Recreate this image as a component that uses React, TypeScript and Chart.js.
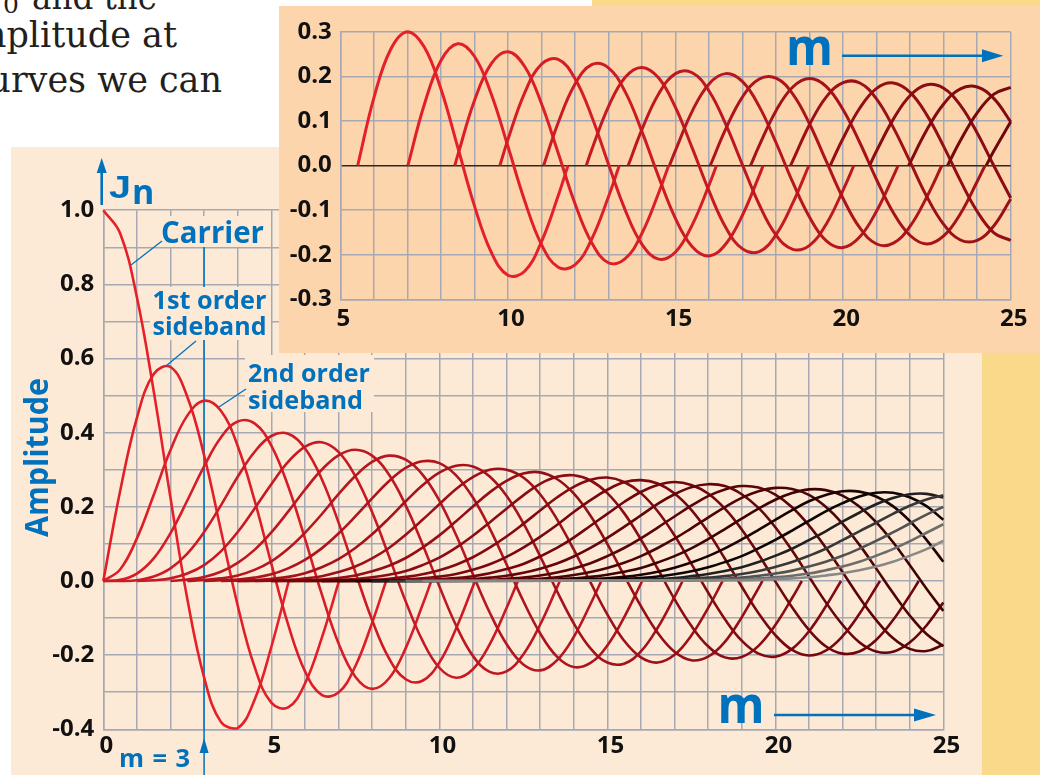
import React, { useEffect, useRef } from "react";
import { Chart, registerables } from "chart.js";

Chart.register(...registerables);

// ---------- data ----------
const STEP = 0.5;

// Main chart: J_n(m), n = 0..26, drawn from m = 0 (or a lead-in point) up to the 2nd zero / m = 25
const mainLead: (number | null)[] = [null, null, null, null, null, 1.0, 2.0, 2.5, 3.0, 3.5, 4.0, 4.0, 4.5, 5.0, 5.0, 5.5, 6.0, 6.5, 6.5, 7.0, 7.5, 8.0, 8.0, 8.5, 9.0, 9.0, 9.5];
const mainX0: number[] = [0, 0, 0, 0, 0, 1.5, 2.5, 3.0, 3.5, 4.5, 5.5, 6.0, 7.0, 7.5, 8.5, 9.5, 10.0, 11.0, 12.0, 13.0, 13.5, 14.5, 15.5, 16.5, 17.5, 18.0, 19.0];
const mainVals: number[][] = [
  [1.0, 0.938, 0.765, 0.512, 0.224, -0.048, -0.26, -0.38, -0.397, -0.321, -0.178],
  [0, 0.242, 0.44, 0.558, 0.577, 0.497, 0.339, 0.137, -0.066, -0.231, -0.328, -0.341, -0.277, -0.154],
  [0, 0.031, 0.115, 0.232, 0.353, 0.446, 0.486, 0.459, 0.364, 0.218, 0.047, -0.117, -0.243, -0.307, -0.301, -0.23, -0.113],
  [0, 0.003, 0.02, 0.061, 0.129, 0.217, 0.309, 0.387, 0.43, 0.425, 0.365, 0.256, 0.115, -0.035, -0.168, -0.258, -0.291, -0.263, -0.181, -0.065],
  [0, 0, 0.002, 0.012, 0.034, 0.074, 0.132, 0.204, 0.281, 0.348, 0.391, 0.397, 0.358, 0.275, 0.158, 0.024, -0.105, -0.208, -0.265, -0.269, -0.22, -0.128, -0.015],
  [0.002, 0.007, 0.02, 0.043, 0.08, 0.132, 0.195, 0.261, 0.321, 0.362, 0.374, 0.348, 0.283, 0.186, 0.067, -0.055, -0.161, -0.234, -0.261, -0.238, -0.171, -0.073],
  [0.004, 0.011, 0.025, 0.049, 0.084, 0.131, 0.187, 0.246, 0.3, 0.339, 0.354, 0.338, 0.287, 0.204, 0.099, -0.014, -0.12, -0.202, -0.245, -0.244, -0.198, -0.118, -0.018],
  [0.003, 0.007, 0.015, 0.03, 0.053, 0.087, 0.13, 0.18, 0.234, 0.283, 0.321, 0.338, 0.327, 0.287, 0.217, 0.124, 0.018, -0.085, -0.17, -0.225, -0.241, -0.214, -0.151, -0.062],
  [0.002, 0.004, 0.009, 0.018, 0.034, 0.057, 0.088, 0.128, 0.174, 0.223, 0.269, 0.305, 0.323, 0.318, 0.285, 0.225, 0.142, 0.045, -0.054, -0.141, -0.204, -0.232, -0.221, -0.174, -0.098],
  [0.002, 0.006, 0.011, 0.021, 0.037, 0.059, 0.089, 0.126, 0.169, 0.215, 0.258, 0.292, 0.311, 0.309, 0.282, 0.23, 0.156, 0.067, -0.027, -0.114, -0.182, -0.22, -0.223, -0.19, -0.126, -0.043],
  [0.003, 0.007, 0.013, 0.024, 0.039, 0.061, 0.089, 0.125, 0.165, 0.207, 0.248, 0.28, 0.3, 0.3, 0.279, 0.234, 0.167, 0.085, -0.004, -0.09, -0.161, -0.206, -0.22, -0.199, -0.147, -0.073],
  [0.002, 0.004, 0.008, 0.015, 0.026, 0.041, 0.062, 0.09, 0.123, 0.161, 0.201, 0.239, 0.27, 0.29, 0.293, 0.275, 0.236, 0.176, 0.1, 0.015, -0.068, -0.14, -0.191, -0.214, -0.204, -0.164, -0.098, -0.019],
  [0.003, 0.005, 0.01, 0.017, 0.027, 0.043, 0.063, 0.09, 0.122, 0.158, 0.195, 0.231, 0.262, 0.281, 0.285, 0.271, 0.237, 0.183, 0.112, 0.033, -0.049, -0.121, -0.176, -0.206, -0.205, -0.175, -0.119, -0.046],
  [0.002, 0.003, 0.006, 0.011, 0.018, 0.029, 0.044, 0.064, 0.09, 0.12, 0.154, 0.19, 0.225, 0.254, 0.273, 0.279, 0.267, 0.237, 0.188, 0.123, 0.047, -0.031, -0.103, -0.161, -0.196, -0.204, -0.183, -0.136, -0.069],
  [0.002, 0.004, 0.007, 0.012, 0.019, 0.03, 0.045, 0.065, 0.09, 0.119, 0.151, 0.186, 0.218, 0.246, 0.266, 0.272, 0.263, 0.236, 0.192, 0.132, 0.06, -0.015, -0.087, -0.146, -0.186, -0.201, -0.188, -0.149, -0.089, -0.017],
  [0.002, 0.005, 0.008, 0.013, 0.021, 0.032, 0.046, 0.066, 0.089, 0.117, 0.149, 0.181, 0.213, 0.24, 0.259, 0.267, 0.259, 0.236, 0.195, 0.139, 0.072, -0.001, -0.071, -0.132, -0.176, -0.196, -0.19, -0.159, -0.106, -0.039],
  [0.002, 0.003, 0.005, 0.009, 0.014, 0.022, 0.033, 0.047, 0.066, 0.089, 0.116, 0.146, 0.177, 0.208, 0.234, 0.253, 0.261, 0.256, 0.234, 0.197, 0.145, 0.082, 0.012, -0.057, -0.118, -0.165, -0.19, -0.191, -0.166, -0.12],
  [0.002, 0.003, 0.006, 0.009, 0.015, 0.023, 0.034, 0.048, 0.067, 0.089, 0.115, 0.144, 0.174, 0.203, 0.229, 0.247, 0.256, 0.252, 0.233, 0.199, 0.15, 0.09, 0.024, -0.044, -0.105, -0.154, -0.183, -0.189],
  [0.002, 0.004, 0.006, 0.01, 0.016, 0.024, 0.035, 0.049, 0.067, 0.089, 0.114, 0.142, 0.171, 0.199, 0.224, 0.242, 0.251, 0.248, 0.232, 0.2, 0.155, 0.098, 0.034, -0.032, -0.093, -0.143],
  [0.002, 0.004, 0.007, 0.011, 0.017, 0.025, 0.035, 0.05, 0.067, 0.088, 0.113, 0.14, 0.168, 0.195, 0.219, 0.237, 0.247, 0.245, 0.23, 0.201, 0.159, 0.105, 0.043, -0.021],
  [0.002, 0.003, 0.005, 0.007, 0.011, 0.017, 0.025, 0.036, 0.05, 0.067, 0.088, 0.112, 0.138, 0.165, 0.191, 0.215, 0.232, 0.242, 0.241, 0.228, 0.202, 0.162, 0.111],
  [0.002, 0.003, 0.005, 0.008, 0.012, 0.018, 0.026, 0.037, 0.051, 0.067, 0.088, 0.111, 0.136, 0.162, 0.188, 0.21, 0.228, 0.238, 0.238, 0.226, 0.202],
  [0.002, 0.003, 0.005, 0.008, 0.013, 0.019, 0.027, 0.037, 0.051, 0.068, 0.087, 0.11, 0.134, 0.16, 0.184, 0.207, 0.224, 0.234, 0.235],
  [0.002, 0.004, 0.006, 0.009, 0.013, 0.019, 0.027, 0.038, 0.051, 0.068, 0.087, 0.11, 0.134, 0.157, 0.181, 0.203, 0.22],
  [0.002, 0.004, 0.006, 0.009, 0.014, 0.02, 0.028, 0.039, 0.052, 0.068, 0.087, 0.108, 0.131, 0.155, 0.179],
  [0.002, 0.003, 0.004, 0.007, 0.01, 0.014, 0.02, 0.029, 0.039, 0.052, 0.068, 0.086, 0.107, 0.13],
  [0.002, 0.003, 0.005, 0.007, 0.01, 0.015, 0.021, 0.029, 0.039, 0.052, 0.068, 0.086],
];
const mainEnd: number[][] = [
  [5.52, 0], [7.016, 0], [8.417, 0], [9.761, 0], [11.065, 0], [12.339, 0], [13.589, 0], [14.821, 0], [16.038, 0],
  [17.241, 0], [18.433, 0], [19.616, 0], [20.79, 0], [21.956, 0], [23.116, 0], [24.269, 0], [25, -0.058], [25, -0.172],
  [25, -0.176], [25, -0.081], [25, 0.052], [25, 0.165], [25, 0.225], [25, 0.231], [25, 0.2], [25, 0.153], [25, 0.108],
];

// Inset: J_n(m) from its 2nd zero to its 4th zero (or m = 25), n = 0..15
const insetStart: number[] = [5.52, 7.016, 8.417, 9.761, 11.065, 12.339, 13.589, 14.821, 16.038, 17.241, 18.433, 19.616, 20.79, 21.956, 23.116, 24.269];
const insetX0: number[] = [6.0, 7.5, 8.5, 10.0, 11.5, 12.5, 14.0, 15.0, 16.5, 17.5, 18.5, 20.0, 21.0, 22.5, 23.5, 24.5];
const insetVals: number[][] = [
  [0.151, 0.26, 0.3, 0.266, 0.172, 0.042, -0.09, -0.194, -0.246, -0.237, -0.171, -0.068],
  [0.135, 0.235, 0.273, 0.245, 0.161, 0.043, -0.079, -0.177, -0.228, -0.223, -0.165, -0.07],
  [0.022, 0.145, 0.228, 0.255, 0.222, 0.139, 0.028, -0.085, -0.173, -0.218, -0.209, -0.152, -0.061],
  [0.058, 0.163, 0.227, 0.238, 0.195, 0.11, 0.003, -0.1, -0.177, -0.21, -0.194, -0.133, -0.044],
  [0.096, 0.182, 0.226, 0.219, 0.165, 0.076, -0.026, -0.119, -0.182, -0.203, -0.176, -0.111, -0.022],
  [0.035, 0.132, 0.198, 0.22, 0.196, 0.13, 0.039, -0.057, -0.139, -0.187, -0.193, -0.155, -0.084],
  [0.081, 0.161, 0.206, 0.208, 0.167, 0.092, 0.001, -0.088, -0.156, -0.188, -0.179, -0.131, -0.055],
  [0.034, 0.122, 0.183, 0.206, 0.188, 0.132, 0.051, -0.038, -0.116, -0.169, -0.184, -0.16, -0.102, -0.024],
  [0.082, 0.154, 0.194, 0.196, 0.16, 0.093, 0.009, -0.074, -0.14, -0.176, -0.174, -0.136, -0.07],
  [0.045, 0.123, 0.176, 0.195, 0.177, 0.125, 0.051, -0.032, -0.106, -0.157, -0.176, -0.158, -0.108, -0.036],
  [0.011, 0.092, 0.154, 0.186, 0.185, 0.149, 0.085, 0.008, -0.07, -0.132, -0.167, -0.168, -0.135],
  [0.061, 0.129, 0.173, 0.185, 0.164, 0.113, 0.043, -0.034, -0.103, -0.151],
  [0.033, 0.104, 0.157, 0.181, 0.173, 0.135, 0.073, -0.001],
  [0.08, 0.138, 0.172, 0.176, 0.15],
  [0.056, 0.118, 0.16],
  [0.033],
];
const insetEnd: number[][] = [
  [11.792, 0], [13.324, 0], [14.796, 0], [16.223, 0], [17.616, 0], [18.98, 0], [20.321, 0], [21.642, 0],
  [22.945, 0], [24.234, 0], [25, -0.075], [25, -0.168], [25, -0.073], [25, 0.098], [25, 0.175], [25, 0.098],
];

const curveColors: string[] = [
  "#e5202a", "#e11f29", "#dc1e28", "#d51d27", "#cd1b25", "#c51a23", "#bd1821", "#b5161f", "#ad141c",
  "#a5121a", "#9d1018", "#940e15", "#8b0c13", "#820a10", "#79080e", "#70060b", "#660509", "#5b0407",
  "#4e0305", "#3f0203", "#1e0101", "#0d0505", "#202020", "#383838", "#525252", "#6c6c6c", "#888888",
];

const mainXTickValues = [0, 5, 10, 15, 20, 25];
const mainXLabels = ["0", "5", "10", "15", "20", "25"];
const mainYTickValues = [-0.4, -0.2, 0, 0.2, 0.4, 0.6, 0.8, 1.0];
const mainYLabels = ["-0.4", "-0.2", "0.0", "0.2", "0.4", "0.6", "0.8", "1.0"];
const insetXTickValues = [5, 10, 15, 20, 25];
const insetXLabels = ["5", "10", "15", "20", "25"];
const insetYTickValues = [-0.3, -0.2, -0.1, 0, 0.1, 0.2, 0.3];
const insetYLabels = ["-0.3", "-0.2", "-0.1", "0.0", "0.1", "0.2", "0.3"];
const markerM = 3;

// ---------- styles ----------
const BLUE = "#0071bc";
const PANEL = "#fdead6";
const INSET = "#fcd5ad";
const YELLOW = "#f9da8b";
const GRID = "#a6a9b4";
const TICK_FONT = { family: "'Open Sans', sans-serif", size: 24, weight: "bold" as const };

function labelFor(values: number[], labels: string[], v: number): string {
  for (let i = 0; i < values.length; i++) if (Math.abs(values[i] - v) < 1e-6) return labels[i];
  return "";
}

function buildPoints(lead: number | null, x0: number, vals: number[], end: number[]) {
  const pts: { x: number; y: number }[] = [];
  if (lead !== null) pts.push({ x: lead, y: 0 });
  vals.forEach((v, i) => pts.push({ x: x0 + i * STEP, y: v }));
  pts.push({ x: end[0], y: end[1] });
  return pts;
}

function mainConfig(): any {
  const datasets: any[] = [];
  for (let n = mainVals.length - 1; n >= 0; n--) {
    datasets.push({
      data: buildPoints(mainLead[n], mainX0[n], mainVals[n], mainEnd[n]),
      borderColor: curveColors[n],
      borderWidth: 2.6,
      pointRadius: 0,
      tension: 0.4,
      fill: false,
      clip: 8,
    });
  }
  const markerPlugin = {
    id: "mMarker",
    beforeDatasetsDraw(chart: any) {
      const ctx = chart.ctx;
      const px = chart.scales.x.getPixelForValue(markerM);
      ctx.save();
      ctx.strokeStyle = BLUE;
      ctx.lineWidth = 1.5;
      ctx.beginPath();
      ctx.moveTo(px, 98);
      ctx.lineTo(px, 628);
      ctx.stroke();
      ctx.fillStyle = BLUE;
      ctx.beginPath();
      ctx.moveTo(px, 591);
      ctx.lineTo(px - 4.5, 606);
      ctx.lineTo(px + 4.5, 606);
      ctx.closePath();
      ctx.fill();
      ctx.restore();
    },
  };
  return {
    type: "line",
    data: { datasets },
    plugins: [markerPlugin],
    options: {
      animation: false,
      responsive: false,
      maintainAspectRatio: false,
      events: [],
      layout: { padding: { left: 0, right: 38.7, top: 63.2, bottom: 0 } },
      plugins: { legend: { display: false }, tooltip: { enabled: false } },
      scales: {
        x: {
          type: "linear",
          min: 0,
          max: 25,
          afterFit: (s: any) => { s.height = 45.7; },
          ticks: {
            stepSize: 1,
            autoSkip: false,
            maxRotation: 0,
            padding: 2,
            color: "#111",
            font: TICK_FONT,
            callback: (v: any) => { const l = labelFor(mainXTickValues, mainXLabels, Number(v)); return l ? " " + l : ""; },
          },
          grid: { color: GRID, lineWidth: 1.5, drawTicks: false },
          border: { color: GRID, width: 1.5 },
        },
        y: {
          type: "linear",
          min: -0.4,
          max: 1.0,
          afterFit: (s: any) => { s.width = 103.3; },
          ticks: {
            stepSize: 0.1,
            autoSkip: false,
            padding: 9,
            color: "#111",
            font: TICK_FONT,
            callback: (v: any) => labelFor(mainYTickValues, mainYLabels, Number(v)),
          },
          grid: { color: GRID, lineWidth: 1.5, drawTicks: false },
          border: { color: GRID, width: 1.5 },
        },
      },
    },
  };
}

function insetConfig(): any {
  const datasets: any[] = [];
  for (let n = insetVals.length - 1; n >= 0; n--) {
    datasets.push({
      data: buildPoints(insetStart[n], insetX0[n], insetVals[n], insetEnd[n]),
      borderColor: curveColors[n],
      borderWidth: 3,
      pointRadius: 0,
      tension: 0.4,
      fill: false,
      clip: 4,
    });
  }
  return {
    type: "line",
    data: { datasets },
    options: {
      animation: false,
      responsive: false,
      maintainAspectRatio: false,
      events: [],
      layout: { padding: { left: 0, right: 29.3, top: 25.7, bottom: 0 } },
      plugins: { legend: { display: false }, tooltip: { enabled: false } },
      scales: {
        x: {
          type: "linear",
          min: 5,
          max: 25,
          afterFit: (s: any) => { s.height = 53.7; },
          ticks: {
            stepSize: 1,
            autoSkip: false,
            maxRotation: 0,
            padding: 5,
            color: "#111",
            font: TICK_FONT,
            callback: (v: any) => { const l = labelFor(insetXTickValues, insetXLabels, Number(v)); return l ? " " + l : ""; },
          },
          grid: { color: GRID, lineWidth: 1.5, drawTicks: false },
          border: { color: GRID, width: 1.5 },
        },
        y: {
          type: "linear",
          min: -0.3,
          max: 0.3,
          afterFit: (s: any) => { s.width = 61.3; },
          ticks: {
            stepSize: 0.1,
            autoSkip: false,
            padding: 8.5,
            color: "#111",
            font: TICK_FONT,
            callback: (v: any) => labelFor(insetYTickValues, insetYLabels, Number(v)),
          },
          grid: {
            color: (c: any) => (c.tick && Math.abs(c.tick.value) < 1e-6 ? "#2a2a2a" : GRID),
            lineWidth: 1.5,
            drawTicks: false,
          },
          border: { color: GRID, width: 1.5 },
        },
      },
    },
  };
}

function ChartCanvas(props: { make: () => any; left: number; top: number; width: number; height: number }) {
  const ref = useRef<HTMLCanvasElement | null>(null);
  useEffect(() => {
    if (!ref.current) return;
    const chart = new Chart(ref.current, props.make());
    return () => chart.destroy();
  }, []);
  return (
    <canvas
      ref={ref}
      width={props.width}
      height={props.height}
      style={{ position: "absolute", left: props.left, top: props.top, width: props.width, height: props.height, display: "block" }}
    />
  );
}

const sans = "'Open Sans', sans-serif";

export default function App() {
  return (
    <div style={{ position: "fixed", left: 0, top: 0, width: 1040, height: 775, overflow: "hidden", background: "#ffffff" }}>
      {/* background blocks */}
      <div style={{ position: "absolute", left: 592, top: 0, width: 448, height: 775, background: YELLOW }} />
      <div style={{ position: "absolute", left: 11, top: 147, width: 971, height: 628, background: PANEL }} />

      {/* running body text of the page */}
      <svg width={1040} height={160} style={{ position: "absolute", left: 0, top: 0 }}>
        <g fontFamily="'DejaVu Serif', serif" fontSize={35} fill="#231f20">
          <text x={0} y={9} textAnchor="end">J</text>
          <text x={3} y={13} fontSize={25}>0</text>
          <text x={157} y={9} textAnchor="end" textLength={125} lengthAdjust="spacingAndGlyphs">and the</text>
          <text x={177} y={47} textAnchor="end">amplitude at</text>
          <text x={222} y={92} textAnchor="end">curves we can</text>
        </g>
      </svg>

      {/* main chart */}
      <ChartCanvas make={mainConfig} left={0} top={147} width={982} height={628} />

      {/* main chart annotations */}
      <svg width={1040} height={775} style={{ position: "absolute", left: 0, top: 0, pointerEvents: "none" }}>
        <rect x={159} y={216} width={108} height={31} fill={PANEL} />
        <rect x={150} y={287} width={121} height={53} fill={PANEL} />
        <rect x={245} y={355} width={129} height={57} fill={PANEL} />
        <g fontFamily={sans} fontWeight={700} fill={BLUE}>
          <text x={161} y={243} fontSize={31} textLength={103} lengthAdjust="spacingAndGlyphs">Carrier</text>
          <text x={152.5} y={308.5} fontSize={25} textLength={114} lengthAdjust="spacingAndGlyphs">1st order</text>
          <text x={152.5} y={335} fontSize={25} textLength={114} lengthAdjust="spacingAndGlyphs">sideband</text>
          <text x={248} y={382} fontSize={25} textLength={122} lengthAdjust="spacingAndGlyphs">2nd order</text>
          <text x={248} y={408.5} fontSize={25} textLength={115} lengthAdjust="spacingAndGlyphs">sideband</text>
          <text transform="translate(48.3 537) rotate(-90)" x={0} y={0} fontSize={32} textLength={159} lengthAdjust="spacingAndGlyphs">Amplitude</text>
          <text x={109} y={198.3} fontSize={32} fontFamily="'Liberation Sans', Arial, sans-serif" textLength={22} lengthAdjust="spacingAndGlyphs">J</text>
          <text x={132} y={203.5} fontSize={34}>n</text>
          <text x={119} y={767} fontSize={25.5} textLength={71} lengthAdjust="spacing">m=3</text>
          <text x={717.5} y={723} fontSize={52} textLength={47} lengthAdjust="spacingAndGlyphs">m</text>
        </g>
        <g stroke={BLUE} strokeWidth={1.3} fill="none">
          <line x1={162} y1={241} x2={131} y2={265} />
          <line x1={196} y1={341} x2={166} y2={366} />
          <line x1={246} y1={389} x2={219} y2={407} />
        </g>
        <line x1={101.7} y1={205} x2={101.7} y2={170} stroke={BLUE} strokeWidth={2.6} />
        <polygon points="101.7,158 96.7,173 106.7,173" fill={BLUE} />
        <line x1={774} y1={715} x2={916} y2={715} stroke={BLUE} strokeWidth={2.6} />
        <polygon points="936,715 914,708.5 914,721.5" fill={BLUE} />
      </svg>

      {/* inset */}
      <div style={{ position: "absolute", left: 279, top: 6, width: 761, height: 347, background: INSET }} />
      <ChartCanvas make={insetConfig} left={279} top={6} width={761} height={347} />
      <svg width={1040} height={360} style={{ position: "absolute", left: 0, top: 0, pointerEvents: "none" }}>
        <text x={786} y={65} fontFamily={sans} fontWeight={700} fontSize={52} fill={BLUE} textLength={47} lengthAdjust="spacingAndGlyphs">m</text>
        <line x1={842} y1={55.7} x2={984} y2={55.7} stroke={BLUE} strokeWidth={2.6} />
        <polygon points="1003.3,55.7 982,49.2 982,62.2" fill={BLUE} />
      </svg>
    </div>
  );
}
